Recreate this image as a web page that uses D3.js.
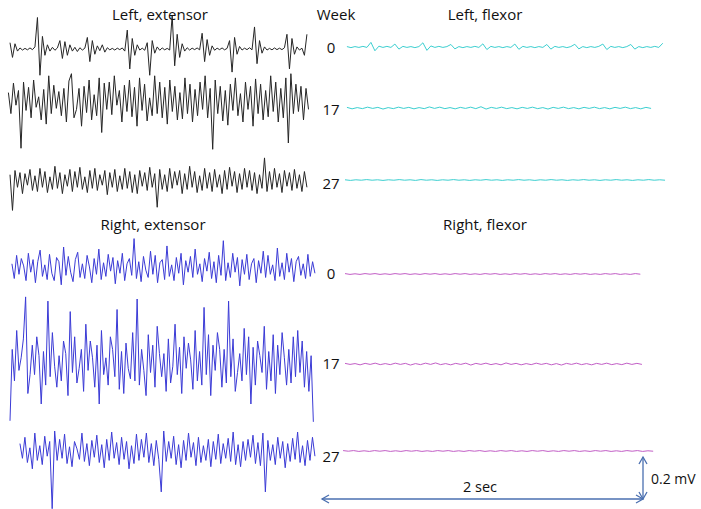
<!DOCTYPE html>
<html>
<head>
<meta charset="utf-8">
<script src="https://cdn.jsdelivr.net/npm/d3@7"></script>
<style>
  body { margin: 0; background: #fff; }
  text { font-family: "Open Sans", sans-serif; fill: #111; }
</style>
</head>
<body>
<div id="cnt"></div>
<script>
const weeks = ['0', '17', '27']
const panelTitles = ['Left, extensor', 'Left, flexor', 'Right, extensor', 'Right, flexor']

// EMG traces, microvolts
const leftExt0 = [30,-40,25,-10,5,-5,3,-4,5,-3,10,150,-125,60,-30,20,-10,8,-6,5,40,-45,35,-30,20,-10,8,-12,6,-5,4,55,-60,40,-25,15,-8,20,-15,6,-4,3,-5,4,-3,5,-10,90,-95,50,-30,20,-5,4,-6,30,-125,40,-20,10,-6,5,-4,3,-5,160,-80,70,-40,25,-10,6,-5,4,-3,5,-4,75,-60,45,-30,15,-6,4,-3,5,-4,3,40,-110,55,-25,12,-5,4,-3,6,-4,105,-70,40,-20,10,-5,3,-4,5,-3,4,-3,6,70,-95,50,-25,10,-5,4,-30,70]
const leftExt17 = [40,-60,85,-20,50,-225,90,-45,65,-80,100,-30,20,-90,55,-110,120,-60,75,-35,45,-70,60,-100,95,130,-80,-40,60,-120,70,-55,100,-90,30,-70,110,-150,85,-40,90,-65,120,-20,50,-100,75,-50,100,-75,65,-120,110,-45,80,-95,15,-70,120,-60,90,-80,65,-110,100,-50,70,-90,40,-85,110,-60,80,-100,55,-70,90,-40,120,-80,60,-230,100,-60,70,-95,50,-115,80,-45,110,-70,35,-100,90,-40,70,-120,105,-60,80,-90,50,-75,120,-50,90,-100,60,-80,110,-200,130,-60,80,-50,70,-90,60,-40]
const leftExt27 = [30,-140,50,-30,40,-60,35,-20,55,-45,25,-50,60,-30,45,-55,20,-40,70,-35,40,-60,30,-25,55,-50,45,-30,65,-40,20,-55,50,-35,60,-45,30,-20,50,-65,40,-30,55,-50,25,-40,60,-35,45,-55,30,-60,50,-25,40,-45,65,-30,35,-125,55,-40,30,-50,60,-35,45,-20,50,-60,35,-40,70,-30,45,-55,25,-45,60,-35,40,-50,55,-30,30,-60,50,-40,65,-25,45,-55,35,-40,60,-30,50,-45,40,-60,30,-35,110,-50,45,-40,60,-30,35,-55,50,-25,40,-45,55,-35,30,-50,45,-30]
const rightExt0 = [20,-50,60,-30,45,10,-60,70,-20,40,-70,30,85,-40,15,-55,65,-25,-60,50,30,-80,100,-35,55,-20,-65,40,75,-45,20,-50,60,5,-70,45,-30,90,-55,25,-40,65,-15,50,-75,35,-25,70,-60,20,45,-35,140,-50,30,-65,55,-10,-45,80,-30,60,-70,25,40,-55,105,-40,15,-60,50,-25,70,-80,35,-20,55,-45,90,-30,20,-65,45,-15,75,-50,30,-70,60,-35,130,-60,25,-45,70,-20,50,-85,40,-30,65,-55,20,45,-70,35,-25,80,-45,60,-30,15,-60,95,-40,25,-55,70,-20,45,-65,30,55,-35,20,-50,65,-40,30,-25]
const rightExt17 = [-280,60,-90,150,-40,20,110,310,-150,-60,80,-60,120,30,-200,50,-110,290,-70,140,-20,-120,30,-90,100,40,-160,240,-50,120,-100,-30,60,-140,180,-40,100,20,-120,80,-200,150,-60,20,-110,120,60,-70,250,-130,50,-150,90,-30,-80,140,-90,300,-110,60,-40,-160,130,-50,80,-120,170,40,-70,40,-140,110,-100,-20,180,-60,70,-150,120,-30,90,10,-130,150,-90,50,-110,260,-60,130,-160,80,-40,140,60,-120,60,-100,290,-70,110,-140,-50,40,-90,160,-60,120,-200,70,-110,100,30,-50,170,-130,50,-90,130,-150,80,-60,140,20,-110,60,-100,120,-70,150,-50,100,-120,50,-140,30,-285]
const rightExt27 = [40,-30,70,-50,20,-80,90,-40,30,-60,75,-20,50,-270,100,-40,60,-30,85,-55,25,-70,50,15,-35,90,-45,40,-65,55,-25,80,-50,35,-75,60,-40,95,-30,45,-60,70,-35,50,-80,30,-55,85,-40,60,-25,90,-50,40,-65,55,-35,-190,100,-45,50,-30,75,-60,35,-75,55,-40,90,-25,45,-65,70,-50,30,-40,60,-70,50,-35,85,-55,40,-30,65,-45,95,-60,35,-70,50,-40,60,-25,80,-55,45,-65,90,-190,55,-40,35,-60,70,-30,50,-75,40,-45,65,-35,95,-50,30,-65,55,-40,70,-20]
const leftFlex0 = [2,-3,2,-2,3,-2,22,-18,4,-2,3,-2,14,-10,3,-2,2,-3,2,20,-16,5,-2,3,-2,2,12,-9,2,-3,2,-2,3,-2,15,-12,3,-2,2,-3,2,-2,14,-11,3,-2,2,-3,2,-2,12,-10,3,-2,2,-3,2,13,-9,2,-3,2,-2,3,14,-12,3,-2,2,-3,2,12,-10,2,-3,2,-2,3,-2,18]
const leftFlex17 = [3,-4,2,-3,4,-2,3,-5,2,-3,4,-2,3,-4,2,-3,5,-2,4,-3,2,-4,3,-2,4,-3,6,-5,3,-2,4,-3,2,-4,3,-2,4,-3,2,-5,3,-2,4,-3,2,-4,3,-2,4,-3,2,-4,3,-2,4,-3,2,-4,3,-2]
const leftFlex27 = [1,-2,1,-1,2,-1,1,-2,1,-1,2,-1,1,-2,2,-1,1,-2,1,-1,2,-1,1,-2,1,-1,2,-1,1,-2,1,-1,2,-1,1,-2,1,-1,2,-1,1,-2,1,-1,2,-1,1,-2,1,-1,2,-1,1,-2,1,-1,2,-1,1,-1]
const rightFlex0 = [2,-2,1,-2,2,-1,2,-2,1,-2,2,-1,2,-2,1,-2,2,-1,2,-2,1,-2,2,-1,2,-2,1,-2,2,-1,2,-2,1,-2,2,-1,2,-2,1,-2,2,-1,2,-2,1,-2,2,-1,2,-2,1,-2,2,-1,2,-2,1,-2,2,-1]
const rightFlex17 = [3,-2,2,-4,3,-2,4,-3,2,-3,4,-2,3,-5,2,-3,4,-2,5,-3,2,-4,3,-2,4,-5,3,-2,4,-3,2,-4,5,-2,3,-4,2,-3,4,-2,3,-4,2,-5,3,-2,4,-3,2,-4,3,-2,4,-3,2,-3,4,-2,3,-2]
const rightFlex27 = [2,-1,2,-2,1,-2,2,-1,2,-2,1,-2,2,-1,2,-2,1,-2,2,-1,2,-2,1,-2,2,-1,2,-2,1,-2,2,-1,2,-2,1,-2,2,-1,2,-2,1,-2,2,-1,2,-2,1,-2,2,-1,2,-2,1,-2,2,-1,2,-2,1,-1]

const W = 701
const H = 509

const svg = d3.select('#cnt')
    .append('svg')
    .attr('width', W)
    .attr('height', H)

// 0.2 mV = 42 px
const y = d3.scaleLinear().domain([0, 200]).range([0, -42])
const xExt = d3.scaleLinear().domain([0, 2]).range([10, 331])
const xFlex = d3.scaleLinear().domain([0, 2]).range([345, 666])
const xBar = d3.scaleLinear().domain([0, 2]).range([322, 643])

const traces = [
    {data: leftExt0, x: xExt, t0: 0, t1: 1.85, base: 49, color: '#262626', w: 1},
    {data: leftExt17, x: xExt, t0: -0.01, t1: 1.86, base: 101, color: '#262626', w: 1},
    {data: leftExt27, x: xExt, t0: 0, t1: 1.85, base: 181, color: '#262626', w: 1},
    {data: leftFlex0, x: xFlex, t0: 0.012, t1: 1.98, base: 47, color: '#3ccfd0', w: 1},
    {data: leftFlex17, x: xFlex, t0: 0.012, t1: 1.907, base: 108, color: '#3ccfd0', w: 1},
    {data: leftFlex27, x: xFlex, t0: 0, t1: 1.994, base: 180, color: '#3ccfd0', w: 1},
    {data: rightExt0, x: xExt, t0: 0.012, t1: 1.9, base: 268, color: '#3b3bd6', w: 1},
    {data: rightExt17, x: xExt, t0: 0, t1: 1.89, base: 362, color: '#3b3bd6', w: 1},
    {data: rightExt27, x: xExt, t0: 0.062, t1: 1.9, base: 452, color: '#3b3bd6', w: 1},
    {data: rightFlex0, x: xFlex, t0: 0, t1: 1.84, base: 274, color: '#c25ec6', w: 1},
    {data: rightFlex17, x: xFlex, t0: 0, t1: 1.85, base: 364, color: '#c25ec6', w: 1},
    {data: rightFlex27, x: xFlex, t0: -0.012, t1: 1.92, base: 451, color: '#c25ec6', w: 1}
]

for (const tr of traces) {
    const t = d3.scaleLinear().domain([0, tr.data.length - 1]).range([tr.t0, tr.t1])
    const line = d3.line()
        .x((d, i) => tr.x(t(i)))
        .y(d => tr.base + y(d))
    svg.append('path')
        .datum(tr.data)
        .attr('d', line)
        .attr('fill', 'none')
        .attr('stroke', tr.color)
        .attr('stroke-width', tr.w)
        .attr('stroke-linejoin', 'round')
}

// titles
const titlePos = [[160, 15], [485, 15], [153, 225], [485, 225]]
panelTitles.forEach((t, i) => {
    svg.append('text')
        .attr('x', titlePos[i][0])
        .attr('y', titlePos[i][1])
        .attr('dy', '0.35em')
        .attr('text-anchor', 'middle')
        .style('font-size', '15px')
        .text(t)
})

svg.append('text')
    .attr('x', 336)
    .attr('y', 15)
    .attr('dy', '0.35em')
    .attr('text-anchor', 'middle')
    .style('font-size', '15px')
    .text('Week')

const weekY = [[48, 110, 184], [274, 364, 457]]
weekY.forEach(col => {
    col.forEach((yy, i) => {
        svg.append('text')
            .attr('x', 331)
            .attr('y', yy)
            .attr('dy', '0.35em')
            .attr('text-anchor', 'middle')
            .style('font-size', '15px')
            .text(weeks[i])
    })
})

// scale bar
const barColor = '#4a6fb0'
const barY = 499
svg.append('line')
    .attr('x1', xBar(0)).attr('x2', xBar(2))
    .attr('y1', barY).attr('y2', barY)
    .attr('stroke', barColor).attr('stroke-width', 1.3)
svg.append('line')
    .attr('x1', xBar(2)).attr('x2', xBar(2))
    .attr('y1', barY).attr('y2', barY + y(200))
    .attr('stroke', barColor).attr('stroke-width', 1.3)

const heads = [
    `M${xBar(0) + 7},${barY - 4} L${xBar(0)},${barY} L${xBar(0) + 7},${barY + 4}`,
    `M${xBar(2) - 7},${barY - 4} L${xBar(2)},${barY} L${xBar(2) - 7},${barY + 4}`,
    `M${xBar(2) - 4},${barY + y(200) + 7} L${xBar(2)},${barY + y(200)} L${xBar(2) + 4},${barY + y(200) + 7}`,
    `M${xBar(2) - 4},${barY - 7} L${xBar(2)},${barY} L${xBar(2) + 4},${barY - 7}`
]
for (const h of heads) {
    svg.append('path')
        .attr('d', h)
        .attr('fill', 'none')
        .attr('stroke', barColor)
        .attr('stroke-width', 1.3)
}

svg.append('text')
    .attr('x', 480)
    .attr('y', 487)
    .attr('dy', '0.35em')
    .attr('text-anchor', 'middle')
    .style('font-size', '14.5px')
    .text('2 sec')

svg.append('text')
    .attr('x', 651)
    .attr('y', 479)
    .attr('dy', '0.35em')
    .style('font-size', '14px')
    .text('0.2 mV')
</script>
</body>
</html>
